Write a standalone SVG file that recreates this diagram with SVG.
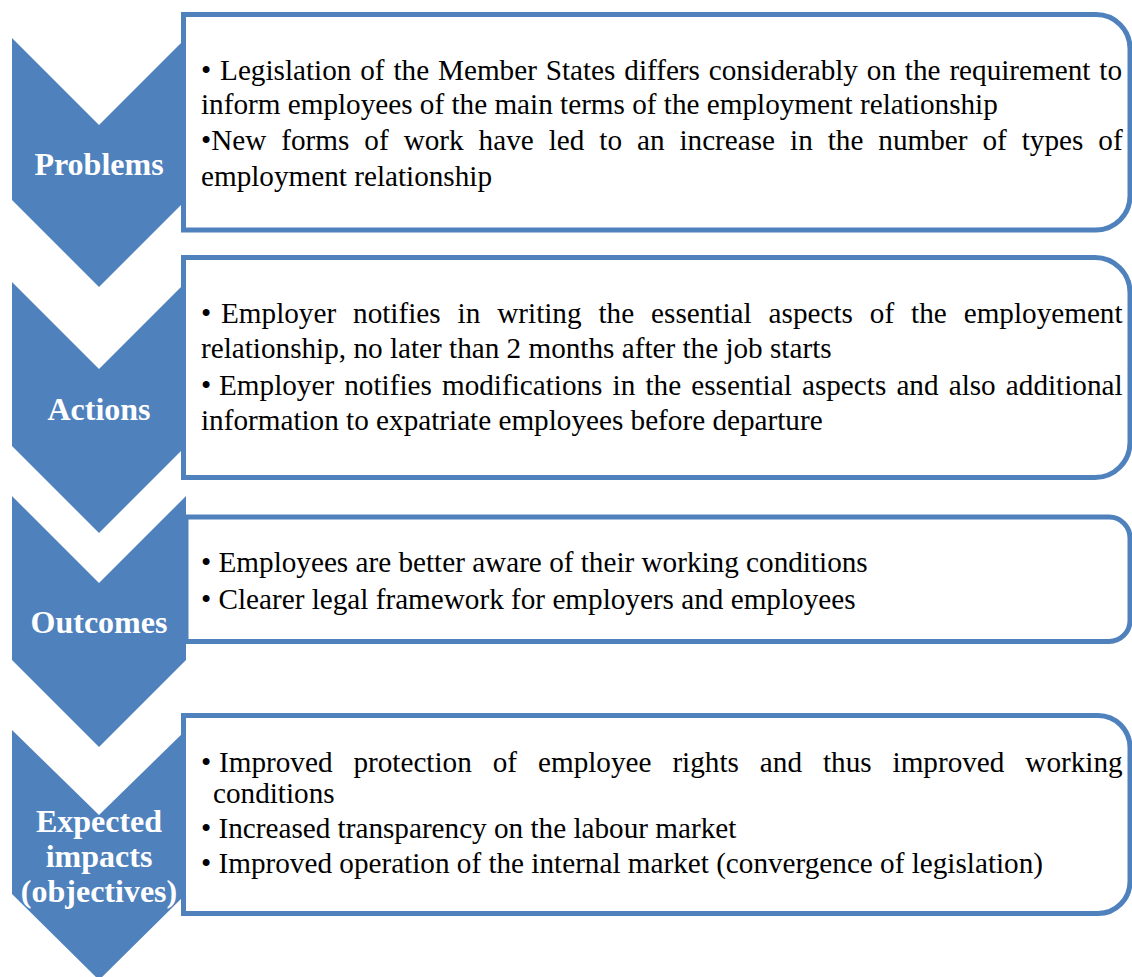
<svg xmlns="http://www.w3.org/2000/svg" width="1132" height="977" viewBox="0 0 1132 977">
<style>
.chev{fill:#4F81BD}
.box{fill:#fff;stroke:#4F81BD;stroke-width:5}
.title{font-family:"Liberation Serif","Times New Roman",serif;font-weight:bold;font-size:32px;fill:#fff;text-anchor:middle}
.body{font-family:"Liberation Serif","Times New Roman",serif;font-size:29.2px;fill:#000}
</style>
<rect width="1132" height="977" fill="#fff"/>
<g id="node-problems">
<polygon class="chev" points="12,38 99,125 186,38 186,200 99,287 12,200"/>
<path class="box" d="M183.5,14.5 H1096 A34,34 0 0 1 1130,48.5 V196 A34,34 0 0 1 1096,230 H183.5 Z"/>
<text class="title" x="99" y="175">Problems</text>
<text class="body" x="201" y="80" word-spacing="1.57">• Legislation of the Member States differs considerably on the requirement to</text>
<text class="body" x="201" y="114">inform employees of the main terms of the employment relationship</text>
<text class="body" x="201" y="150" word-spacing="7.67">•New forms of work have led to an increase in the number of types of</text>
<text class="body" x="201" y="186">employment relationship</text>
</g>
<g id="node-actions">
<polygon class="chev" points="12,282 99,369 186,282 186,446 99,533 12,446"/>
<path class="box" d="M183.5,257.5 H1095 A35,35 0 0 1 1130,292.5 V442.5 A35,35 0 0 1 1095,477.5 H183.5 Z"/>
<text class="title" x="99" y="420">Actions</text>
<text class="body" x="201" y="323">•</text>
<text class="body" x="221" y="323" word-spacing="9.66">Employer notifies in writing the essential aspects of the employement</text>
<text class="body" x="201" y="358">relationship, no later than 2 months after the job starts</text>
<text class="body" x="201" y="395">•</text>
<text class="body" x="219" y="395" word-spacing="2.86">Employer notifies modifications in the essential aspects and also additional</text>
<text class="body" x="201" y="430">information to expatriate employees before departure</text>
</g>
<g id="node-outcomes">
<polygon class="chev" points="12,496 99,583 186,496 186,660 99,747 12,660"/>
<path class="box" d="M186,517 H1109 A21,21 0 0 1 1130,538 V620.5 A21,21 0 0 1 1109,641.5 H186 Z"/>
<text class="title" x="99" y="633">Outcomes</text>
<text class="body" x="201" y="572">• Employees are better aware of their working conditions</text>
<text class="body" x="201" y="609">• Clearer legal framework for employers and employees</text>
</g>
<g id="node-impacts">
<polygon class="chev" points="12,730 99,815 186,730 186,894 99,980 12,894"/>
<path class="box" d="M183.5,715.5 H1098 A32,32 0 0 1 1130,747.5 V881.5 A32,32 0 0 1 1098,913.5 H183.5 Z"/>
<text class="title" x="99" y="832">Expected</text>
<text class="title" x="99" y="867">impacts</text>
<text class="title" x="99" y="902">(objectives)</text>
<text class="body" x="201" y="772">•</text>
<text class="body" x="219" y="772" word-spacing="13.66">Improved protection of employee rights and thus improved working</text>
<text class="body" x="213" y="803">conditions</text>
<text class="body" x="201" y="838">• Increased transparency on the labour market</text>
<text class="body" x="201" y="873">• Improved operation of the internal market (convergence of legislation)</text>
</g>
</svg>
